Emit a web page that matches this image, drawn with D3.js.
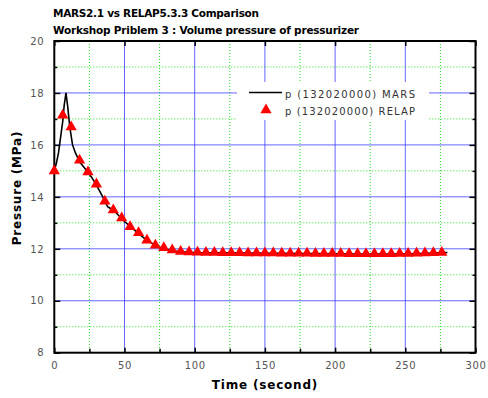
<!DOCTYPE html>
<html>
<head>
<meta charset="utf-8">
<script src="https://cdnjs.cloudflare.com/ajax/libs/d3/7.8.5/d3.min.js"></script>
<style>
  body { margin: 0; background: #fff; }
  svg { display: block; font-family: "DejaVu Sans", sans-serif; }
</style>
</head>
<body>
<div id="chart"></div>
<script>
// MARS line
const marsTime = [0, 1.5, 3, 4.5, 6, 7, 8.3, 9.5, 11, 13, 15, 18, 21, 24, 27, 30, 33, 36, 38, 40, 43, 46, 50, 54, 58, 62, 66, 70, 74, 78, 82, 86, 90, 100, 120, 140, 160, 180, 200, 220, 240, 260, 270, 280];
const marsPressure = [15.0, 15.3, 15.7, 16.3, 16.9, 17.5, 18.0, 17.5, 16.7, 16.0, 15.7, 15.35, 15.15, 14.95, 14.72, 14.45, 14.15, 13.85, 13.62, 13.55, 13.45, 13.27, 13.05, 12.86, 12.68, 12.5, 12.33, 12.2, 12.08, 12.01, 11.95, 11.91, 11.88, 11.86, 11.85, 11.84, 11.83, 11.82, 11.81, 11.8, 11.8, 11.82, 11.84, 11.86];

// RELAP markers, every 6 s
const relapTime = [0, 6, 12, 18, 24, 30, 36, 42, 48, 54, 60, 66, 72, 78, 84, 90, 96, 102, 108, 114, 120, 126, 132, 138, 144, 150, 156, 162, 168, 174, 180, 186, 192, 198, 204, 210, 216, 222, 228, 234, 240, 246, 252, 258, 264, 270, 276];
const relapPressure = [15.0, 17.14, 16.69, 15.41, 14.96, 14.49, 13.83, 13.49, 13.19, 12.85, 12.62, 12.33, 12.14, 12.04, 11.95, 11.9, 11.88, 11.87, 11.86, 11.86, 11.85, 11.85, 11.85, 11.84, 11.84, 11.84, 11.84, 11.83, 11.83, 11.83, 11.83, 11.82, 11.82, 11.82, 11.82, 11.81, 11.81, 11.81, 11.81, 11.81, 11.81, 11.82, 11.82, 11.83, 11.84, 11.85, 11.86];

const xMajor = [0, 50, 100, 150, 200, 250, 300];
const xMinor = [25, 75, 125, 175, 225, 275];
const yMajor = [8, 10, 12, 14, 16, 18, 20];
const yMinor = [9, 11, 13, 15, 17, 19];

const titleLines = ["MARS2.1 vs RELAP5.3.3 Comparison", "Workshop Priblem 3 : Volume pressure of pressurizer"];
const legendLabels = ["p (132020000) MARS", "p (132020000) RELAP"];

const svgWidth = 488, svgHeight = 398;
const margin = { top: 41, right: 12.5, bottom: 45.3, left: 54.3 };
const width = svgWidth - margin.left - margin.right,
  height = svgHeight - margin.top - margin.bottom;

const svg = d3.select('#chart').append('svg')
  .attr('width', svgWidth)
  .attr('height', svgHeight);

const g = svg.append('g')
  .attr('transform', `translate(${margin.left},${margin.top})`);

const x = d3.scaleLinear().domain([0, 300]).range([0, width]);
const y = d3.scaleLinear().domain([8, 20]).range([height, 0]);

// grid lines
g.append('g').selectAll('line').data(xMinor).enter().append('line')
  .attr('x1', d => x(d)).attr('x2', d => x(d)).attr('y1', 0).attr('y2', height)
  .attr('stroke', '#22dd22').attr('stroke-dasharray', '1,2');
g.append('g').selectAll('line').data(yMinor).enter().append('line')
  .attr('y1', d => y(d)).attr('y2', d => y(d)).attr('x1', 0).attr('x2', width)
  .attr('stroke', '#22dd22').attr('stroke-dasharray', '1,2');
g.append('g').selectAll('line').data(xMajor.slice(1, -1)).enter().append('line')
  .attr('x1', d => x(d)).attr('x2', d => x(d)).attr('y1', 0).attr('y2', height)
  .attr('stroke', '#3333ff').attr('stroke-opacity', 0.75);
g.append('g').selectAll('line').data(yMajor.slice(1, -1)).enter().append('line')
  .attr('y1', d => y(d)).attr('y2', d => y(d)).attr('x1', 0).attr('x2', width)
  .attr('stroke', '#3333ff').attr('stroke-opacity', 0.75);

// legend box (covers the grid)
const legend = g.append('g').attr('transform', `translate(${237 - margin.left},${82 - margin.top})`);
legend.append('rect').attr('width', 192).attr('height', 38).attr('fill', '#fff');

// axes
function styleAxis(sel) {
  sel.select('.domain').remove();
  sel.selectAll('.tick line').attr('stroke', '#000').attr('stroke-width', 1.5);
  sel.selectAll('.tick text').attr('fill', '#555').attr('font-size', 10)
    .attr('letter-spacing', '0.6px').attr('font-family', '"DejaVu Sans", sans-serif');
}

g.append('g').attr('transform', `translate(0,${height})`)
  .call(d3.axisBottom(x).tickValues(xMajor).tickSize(-5).tickPadding(9).tickFormat(d3.format('d')))
  .call(styleAxis);
g.append('g').attr('transform', `translate(0,${height})`)
  .call(d3.axisBottom(x).tickValues(xMinor).tickSize(-4).tickFormat(''))
  .call(styleAxis);
g.append('g')
  .call(d3.axisLeft(y).tickValues(yMajor).tickSize(-6).tickPadding(10).tickFormat(d3.format('d')))
  .call(styleAxis);
g.append('g')
  .call(d3.axisLeft(y).tickValues(yMinor).tickSize(-3).tickFormat(''))
  .call(styleAxis);
g.append('g')
  .call(d3.axisTop(x).tickValues(xMajor).tickSize(-5).tickFormat(''))
  .call(styleAxis);
g.append('g').attr('transform', `translate(${width},0)`)
  .call(d3.axisRight(y).tickValues(yMajor).tickSize(-6).tickFormat(''))
  .call(styleAxis);
g.append('g').attr('transform', `translate(${width},0)`)
  .call(d3.axisRight(y).tickValues(yMinor).tickSize(-3).tickFormat(''))
  .call(styleAxis);

// frame
g.append('rect').attr('width', width).attr('height', height)
  .attr('fill', 'none').attr('stroke', '#000').attr('stroke-width', 2);

// series
const line = d3.line().x(d => x(d[0])).y(d => y(d[1]));
g.append('path')
  .datum(marsTime.map((t, i) => [t, marsPressure[i]]))
  .attr('d', line)
  .attr('fill', 'none').attr('stroke', '#000').attr('stroke-width', 1.6);

const tri = d3.symbol().type(d3.symbolTriangle).size(55);
g.append('g').selectAll('path')
  .data(relapTime.map((t, i) => [t, relapPressure[i]]))
  .enter().append('path')
  .attr('transform', d => `translate(${x(d[0])},${y(d[1])})`)
  .attr('d', tri)
  .attr('fill', '#ff0000');

// legend contents
legend.append('line').attr('x1', 12).attr('x2', 45).attr('y1', 10.5).attr('y2', 10.5)
  .attr('stroke', '#000').attr('stroke-width', 1.6);
legend.append('path').attr('transform', 'translate(29,28)').attr('d', tri).attr('fill', '#ff0000');
legend.selectAll('text.lab').data(legendLabels).enter().append('text')
  .attr('class', 'lab')
  .attr('x', 48).attr('y', (d, i) => 12.5 + i * 17.5)
  .attr('dy', '0.32em')
  .attr('font-size', 10).attr('fill', '#333')
  .attr('textLength', 130).attr('lengthAdjust', 'spacing')
  .text(d => d);

// titles
svg.selectAll('text.title').data(titleLines).enter().append('text')
  .attr('class', 'title')
  .attr('x', 53).attr('y', (d, i) => 17 + i * 17)
  .attr('font-size', 10.5).attr('font-weight', 'bold').attr('fill', '#000')
  .attr('textLength', (d, i) => i === 0 ? 206 : 306).attr('lengthAdjust', 'spacing')
  .text(d => d);

svg.append('text')
  .attr('x', 265).attr('y', 389)
  .attr('text-anchor', 'middle')
  .attr('font-size', 12).attr('font-weight', 'bold')
  .attr('letter-spacing', '0.8px')
  .text('Time (second)');

svg.append('text')
  .attr('transform', 'translate(21,188) rotate(-90)')
  .attr('text-anchor', 'middle')
  .attr('font-size', 12).attr('font-weight', 'bold')
  .attr('letter-spacing', '0.8px')
  .text('Pressure (MPa)');
</script>
</body>
</html>
